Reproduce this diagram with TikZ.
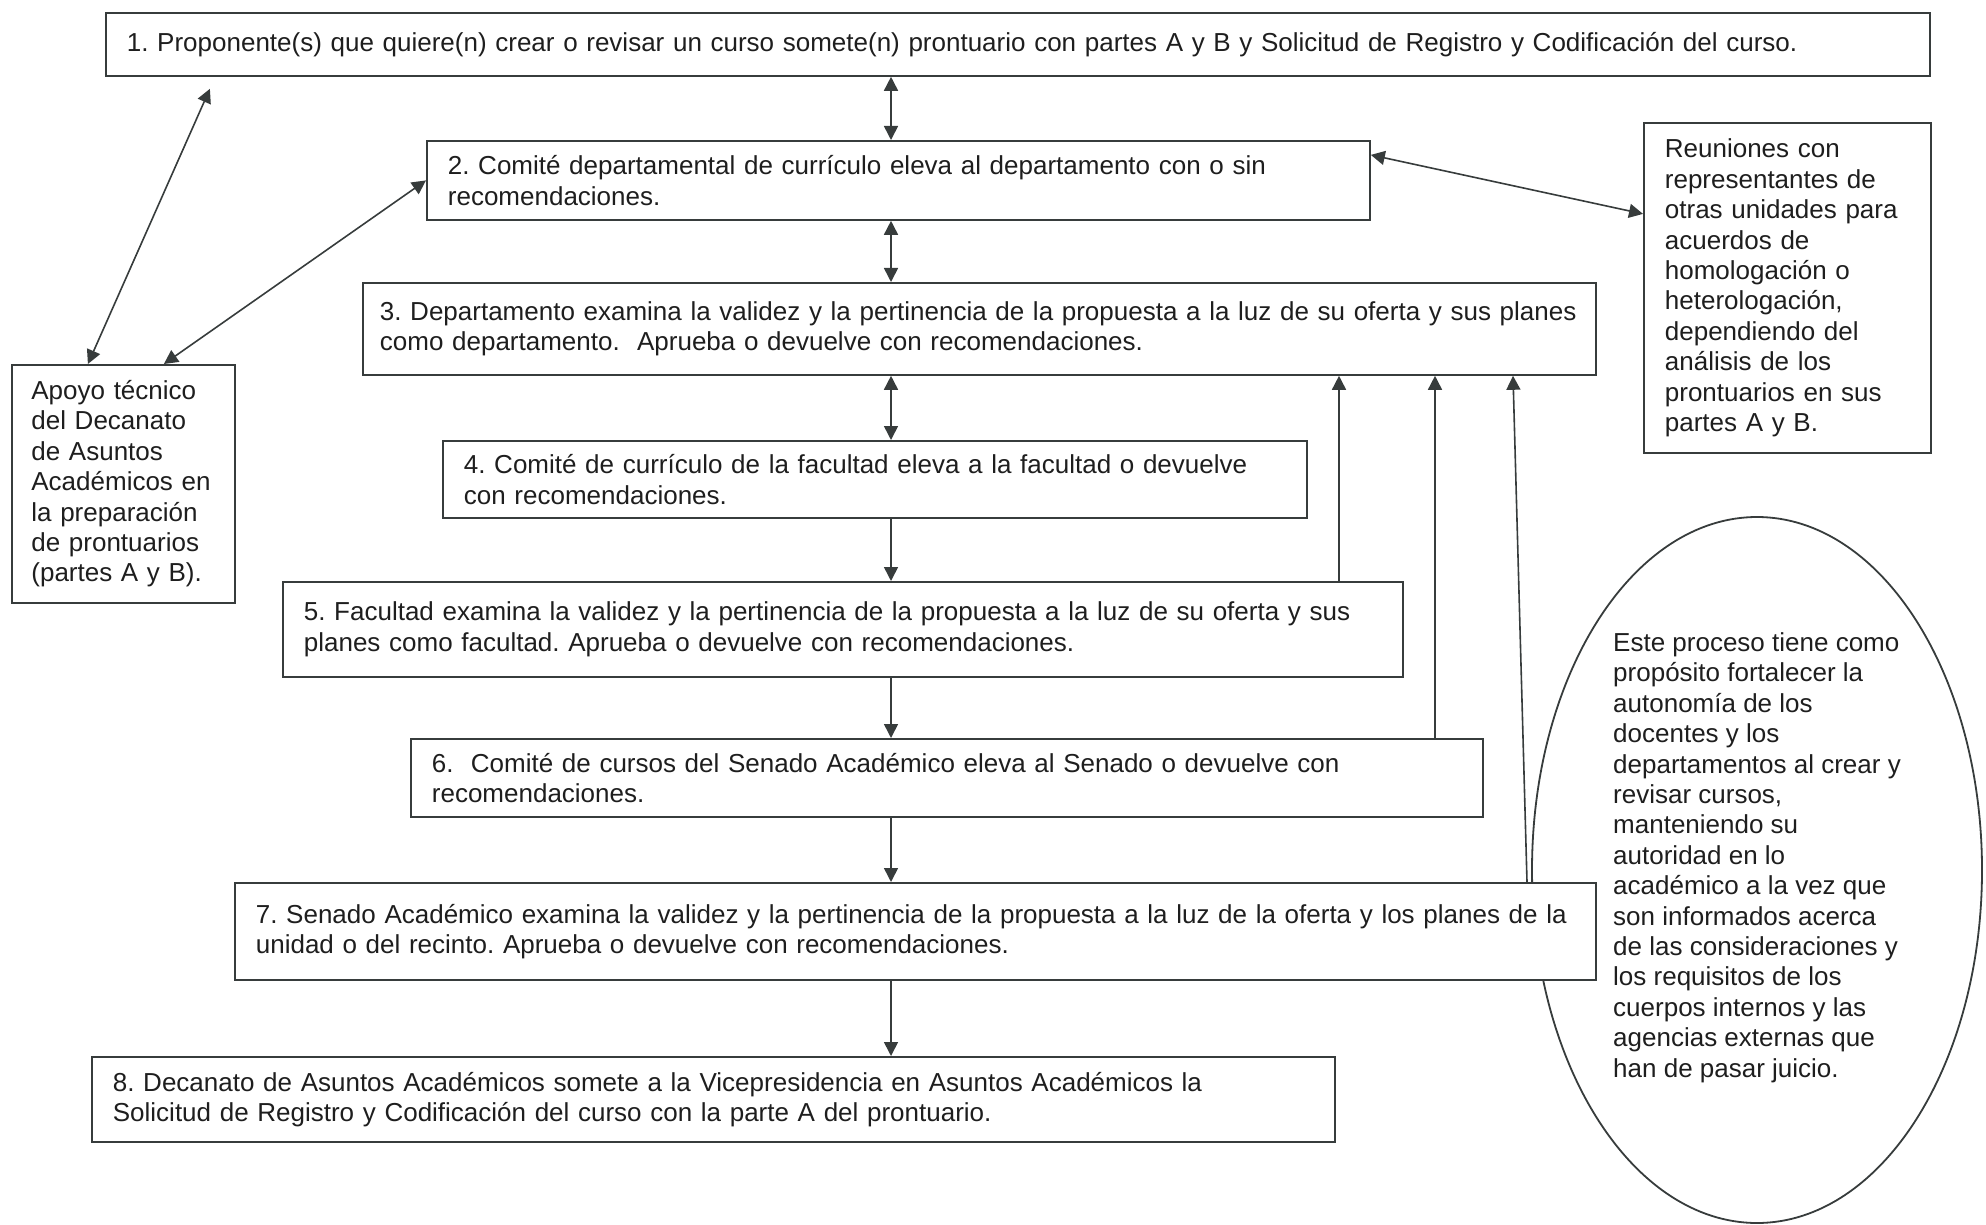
\documentclass[tikz,border=0pt]{standalone}
\usepackage{fontspec}
\setmainfont{Liberation Sans}
\usetikzlibrary{arrows.meta, positioning, shapes.geometric}
\definecolor{linegray}{RGB}{55,60,60}
\definecolor{inkgray}{RGB}{30,30,30}
\frenchspacing

\begin{document}
\begin{tikzpicture}[
  x=0.5pt, y=-0.5pt,
  font=\fontsize{13pt}{15.2pt}\selectfont,
  box/.style={draw=linegray, fill=white, line width=0.9pt, align=left, anchor=north west, inner xsep=10.5pt, text=inkgray},
  note/.style={draw=linegray, line width=0.9pt, ellipse, align=left, text=inkgray},
  arrow/.style={-{Triangle[length=7pt, width=7pt]}, linegray, line width=0.8pt},
  dblarrow/.style={arrow, {Triangle[length=7pt, width=7pt]}-{Triangle[length=7pt, width=7pt]}},
]
  \useasboundingbox (0,0) rectangle (1986,1225);

  % ellipse first, the Senado box covers part of it
  \node[note, minimum width=225pt, minimum height=353pt] (proposito) at (1757,870) {Este proceso tiene como\\propósito fortalecer la\\autonomía de los\\docentes y los\\departamentos al crear y\\revisar cursos,\\manteniendo su\\autoridad en lo\\académico a la vez que\\son informados acerca\\de las consideraciones y\\los requisitos de los\\cuerpos internos y las\\agencias externas que\\han de pasar juicio.\\\mbox{}};

  \node[box, minimum width=912pt, minimum height=31.5pt, text width=891pt] (prop) at (105,12) {1. Proponente(s) que quiere(n) crear o revisar un curso somete(n) prontuario con partes A y B y Solicitud de Registro y Codificación del curso.};
  \node[box, minimum width=471.5pt, minimum height=39.5pt, text width=450.5pt] (comdep) at (426,140) {2. Comité departamental de currículo eleva al departamento con o sin\\recomendaciones.};
  \node[box, minimum width=616.5pt, minimum height=46pt, text width=599.5pt, inner xsep=8.5pt] (depto) at (362,282) {3. Departamento examina la validez y la pertinencia de la propuesta a la luz de su oferta y sus planes\\como departamento.\ \ Aprueba o devuelve con recomendaciones.};
  \node[box, minimum width=432pt, minimum height=38.5pt, text width=411pt] (comfac) at (442,440) {4. Comité de currículo de la facultad eleva a la facultad o devuelve\\con recomendaciones.};
  \node[box, minimum width=560pt, minimum height=47.5pt, text width=539pt] (facultad) at (282,581) {5. Facultad examina la validez y la pertinencia de la propuesta a la luz de su oferta y sus\\planes como facultad. Aprueba o devuelve con recomendaciones.};
  \node[box, minimum width=536pt, minimum height=39pt, text width=515pt] (comsen) at (410,738) {6.\ \ Comité de cursos del Senado Académico eleva al Senado o devuelve con\\recomendaciones.};
  \node[box, minimum width=680.5pt, minimum height=48.5pt, text width=659.5pt] (senado) at (234,882) {7. Senado Académico examina la validez y la pertinencia de la propuesta a la luz de la oferta y los planes de la\\unidad o del recinto. Aprueba o devuelve con recomendaciones.};
  \node[box, minimum width=621.5pt, minimum height=42.5pt, text width=600.5pt] (decanato) at (91,1056) {8. Decanato de Asuntos Académicos somete a la Vicepresidencia en Asuntos Académicos la\\Solicitud de Registro y Codificación del curso con la parte A del prontuario.};

  \node[box, minimum width=111.5pt, minimum height=119pt, text width=92pt, inner xsep=9.75pt] (apoyo) at (11,364) {Apoyo técnico\\del Decanato\\de Asuntos\\Académicos en\\la preparación\\de prontuarios\\(partes A y B).};
  \node[box, minimum width=143.5pt, minimum height=165pt, text width=122.5pt] (reuniones) at (1643,122) {Reuniones con\\representantes de\\otras unidades para\\acuerdos de\\homologación o\\heterologación,\\dependiendo del\\análisis de los\\prontuarios en sus\\partes A y B.};

  % main column
  \coordinate (axis) at (891,0);
  \draw[dblarrow] (prop.south -| axis) -- (comdep.north -| axis);
  \draw[dblarrow] (comdep.south -| axis) -- (depto.north -| axis);
  \draw[dblarrow] (depto.south -| axis) -- (comfac.north -| axis);
  \draw[arrow] (comfac.south -| axis) -- (facultad.north -| axis);
  \draw[arrow] (facultad.south -| axis) -- (comsen.north -| axis);
  \draw[arrow] (comsen.south -| axis) -- (senado.north -| axis);
  \draw[arrow] (senado.south -| axis) -- (decanato.north -| axis);

  % returns to the department
  \coordinate (back1) at (1339,0);
  \coordinate (back2) at (1435,0);
  \coordinate (back3) at (1527,0);
  \coordinate (back3top) at (1513,0);
  \draw[arrow] (facultad.north -| back1) -- (depto.south -| back1);
  \draw[arrow] (comsen.north -| back2) -- (depto.south -| back2);
  \draw[arrow] (senado.north -| back3) -- (depto.south -| back3top);

  % side links
  \draw[dblarrow] ([xshift=-17.75pt]apoyo.north) -- ([xshift=-404pt, yshift=-6pt]prop.south);
  \draw[dblarrow] ([xshift=20.25pt]apoyo.north) -- (comdep.west);
  \draw[dblarrow] ([yshift=12.75pt]comdep.east) -- ([yshift=37pt]reuniones.west);
\end{tikzpicture}
\end{document}
